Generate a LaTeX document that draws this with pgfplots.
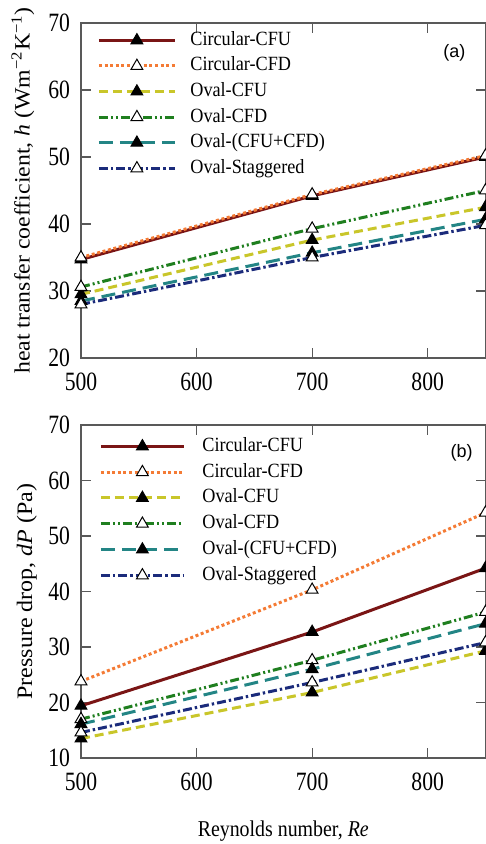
\documentclass[border=0pt]{standalone}
\usepackage{fontspec}
\usepackage{pgfplots}
\pgfplotsset{compat=1.18}
\setmainfont{Liberation Serif}
\newfontfamily\tickfont{Liberation Serif}[FakeStretch=0.82]
\newfontfamily\legfont{Liberation Serif}[FakeStretch=0.9]
\newfontfamily\xlfont{Liberation Serif}[FakeStretch=0.88]
\newfontfamily\sansf{Liberation Sans}
\definecolor{cRed}{HTML}{7A1515}
\definecolor{cOrange}{HTML}{F47B35}
\definecolor{cYellow}{HTML}{C9C62A}
\definecolor{cGreen}{HTML}{1F7F1F}
\definecolor{cTeal}{HTML}{238585}
\definecolor{cNavy}{HTML}{1B2B7B}
\pgfplotsset{
  myaxis/.style={
    scale only axis, width=202.25pt,
    xmin=500, xmax=850, ymax=70,
    xtick={500,600,700,800},
    axis line style={black!65, line width=0.7pt},
    major tick style={black!65, line width=0.6pt},
    major tick length=5pt,
    tick align=inside,
    /pgf/number format/assume math mode=true,
    ticklabel style={font=\tickfont\fontsize{13.2pt}{14pt}\selectfont},
    xticklabel style={yshift=-4pt},
    yticklabel style={xshift=-2pt},
    legend cell align=left,
    legend style={draw=none, fill=none, inner sep=0pt, column sep=7pt,
      font=\legfont\fontsize{10.1pt}{11pt}\selectfont,
      nodes={inner sep=0pt, text height=7pt, text depth=2pt}},
  },
  mk/.style={mark=triangle*, mark size=3.4pt, mark options={solid, draw=black, line width=0.5pt, fill=#1}},
  sRed/.style={cRed, line width=1.5pt, solid, mk=black},
  sOrange/.style={cOrange, line width=1.5pt, dash pattern=on 1.5pt off 1.3pt, mk=white},
  sYellow/.style={cYellow, line width=1.5pt, dash pattern=on 4.5pt off 2.5pt, mk=black},
  sGreen/.style={cGreen, line width=1.5pt, dash pattern=on 4.5pt off 1.5pt on 1pt off 1.5pt on 1pt off 1.5pt, mk=white},
  sTeal/.style={cTeal, line width=1.5pt, dash pattern=on 7pt off 3.5pt, mk=black},
  sNavy/.style={cNavy, line width=1.5pt, dash pattern=on 4.5pt off 1.5pt on 1.2pt off 1.5pt, mk=white},
}
\begin{document}
\begin{tikzpicture}
% ---------- (a) ----------
\begin{axis}[myaxis,
  at={(40.5pt,243pt)}, anchor=south west, height=167.5pt,
  ymin=20, ytick={20,30,40,50,60,70},
  ylabel={\scalebox{1}[0.92]{\fontsize{11.9pt}{13pt}\selectfont heat transfer coefficient, \textit{h} (Wm\textsuperscript{−2}K\textsuperscript{−1})}},
  ylabel style={at={(axis description cs:-0.1436,0.5)}, anchor=center},
  legend image code/.code={\draw[mark repeat=2,mark phase=2,#1] plot coordinates {(0pt,0pt) (19pt,0pt) (38pt,0pt)};},
  legend style={at={(axis description cs:0,1)}, anchor=north west, xshift=8pt, yshift=-4pt, row sep=3.8pt},
]
\addplot[sRed] coordinates {(500,34.7) (700,44.2) (850,50.0)};
\addlegendentry{Circular-CFU}
\addplot[sOrange] coordinates {(500,35.0) (700,44.4) (850,50.2)};
\addlegendentry{Circular-CFD}
\addplot[sYellow] coordinates {(500,29.5) (700,37.6) (850,42.5)};
\addlegendentry{Oval-CFU}
\addplot[sGreen] coordinates {(500,30.6) (700,39.3) (850,45.0)};
\addlegendentry{Oval-CFD}
\addplot[sTeal] coordinates {(500,28.5) (700,35.7) (850,40.7)};
\addlegendentry{Oval-(CFU+CFD)}
\addplot[sNavy] coordinates {(500,28.0) (700,35.0) (850,39.8)};
\addlegendentry{Oval-Staggered}
\node[font=\sansf\fontsize{9pt}{10pt}\selectfont] at (rel axis cs:0.923,0.910) {(a)};
\end{axis}
% ---------- (b) ----------
\begin{axis}[myaxis,
  at={(40.5pt,43pt)}, anchor=south west, height=166.5pt,
  ymin=10, ytick={10,20,30,40,50,60,70},
  ylabel={\scalebox{1}[0.92]{\fontsize{12pt}{13pt}\selectfont Pressure drop, \textit{dP} (Pa)}},
  ylabel style={at={(axis description cs:-0.134,0.5)}, anchor=center},
  xlabel={\xlfont\fontsize{11.3pt}{13pt}\selectfont Reynolds number, \textit{Re}},
  xlabel style={at={(axis description cs:0.5,0)}, anchor=north, yshift=-28pt},
  legend image code/.code={\draw[mark repeat=2,mark phase=2,#1] plot coordinates {(0pt,0pt) (20.75pt,0pt) (41.5pt,0pt)};},
  legend style={at={(axis description cs:0,1)}, anchor=north west, xshift=9pt, yshift=-6pt, row sep=3.9pt, column sep=8.5pt},
]
\addplot[sRed] coordinates {(500,19.4) (700,32.7) (850,44.2)};
\addlegendentry{Circular-CFU}
\addplot[sOrange] coordinates {(500,23.8) (700,40.3) (850,54.2)};
\addlegendentry{Circular-CFD}
\addplot[sYellow] coordinates {(500,13.5) (700,21.8) (850,29.3)};
\addlegendentry{Oval-CFU}
\addplot[sGreen] coordinates {(500,17.0) (700,27.6) (850,36.3)};
\addlegendentry{Oval-CFD}
\addplot[sTeal] coordinates {(500,16.1) (700,26.0) (850,34.2)};
\addlegendentry{Oval-(CFU+CFD)}
\addplot[sNavy] coordinates {(500,14.6) (700,23.6) (850,30.8)};
\addlegendentry{Oval-Staggered}
\node[font=\sansf\fontsize{9pt}{10pt}\selectfont] at (rel axis cs:0.941,0.916) {(b)};
\end{axis}
\pgfresetboundingbox
\useasboundingbox (0pt,0pt) rectangle (243pt,422pt);
\end{tikzpicture}
\end{document}
